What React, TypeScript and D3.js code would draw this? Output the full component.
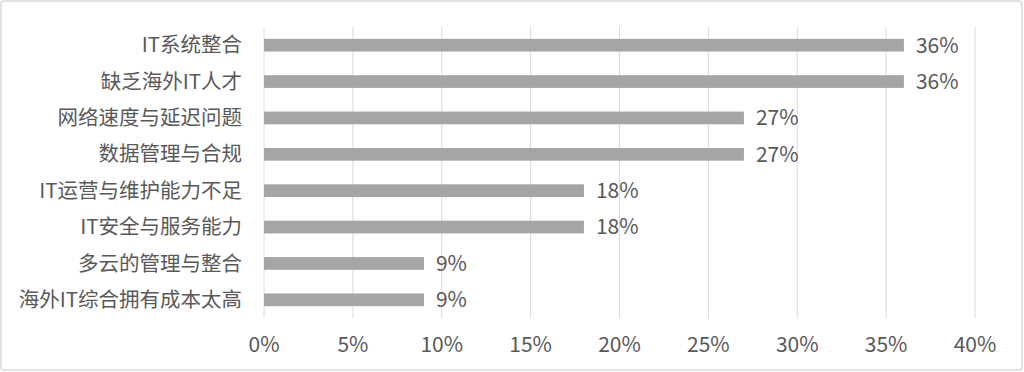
import React from "react";
import * as d3 from "d3";

const categories = [
  "IT系统整合",
  "缺乏海外IT人才",
  "网络速度与延迟问题",
  "数据管理与合规",
  "IT运营与维护能力不足",
  "IT安全与服务能力",
  "多云的管理与整合",
  "海外IT综合拥有成本太高",
];
const values = [0.36, 0.36, 0.27, 0.27, 0.18, 0.18, 0.09, 0.09];
const tickValues = [0, 0.05, 0.1, 0.15, 0.2, 0.25, 0.3, 0.35, 0.4];

const W = 1024;
const H = 372;
const FONT = '"Noto Sans CJK SC", "Noto Sans", sans-serif';

export default function App() {
  const x = d3.scaleLinear().domain([0, 0.4]).range([264, 975]);
  const y = d3.scaleBand<string>().domain(categories).range([27, 318]).paddingInner(0.65).paddingOuter(0.325);
  const fmt = d3.format(".0%");
  return (
    <svg
      width={W}
      height={H}
      style={{ position: "absolute", left: 0, top: 0, background: "#fff" }}
      fontFamily={FONT}
      fontWeight={400}
    >
      <rect x={1} y={1} width={W - 3} height={H - 3} rx={3} fill="#fff" stroke="#d9d9d9" strokeWidth={1.5} />
      {tickValues.map((t) => (
        <g key={t}>
          <line x1={x(t)} x2={x(t)} y1={27} y2={318} stroke="#d9d9d9" strokeWidth={1} />
          <text x={x(t)} y={352} textAnchor="middle" fontSize={21} fill="#595959">
            {fmt(t)}
          </text>
        </g>
      ))}
      {categories.map((c, i) => {
        const yc = (y(c) as number) + y.bandwidth() / 2;
        return (
          <g key={c}>
            <rect x={x(0)} y={y(c)} width={x(values[i]) - x(0)} height={y.bandwidth()} fill="#a5a5a5" />
            <text x={242} y={yc} dy="0.35em" textAnchor="end" fontSize={20.5} fill="#595959">
              {c}
            </text>
            <text x={x(values[i]) + 12} y={yc} dy="0.35em" fontSize={21} fill="#595959">
              {fmt(values[i])}
            </text>
          </g>
        );
      })}
    </svg>
  );
}
